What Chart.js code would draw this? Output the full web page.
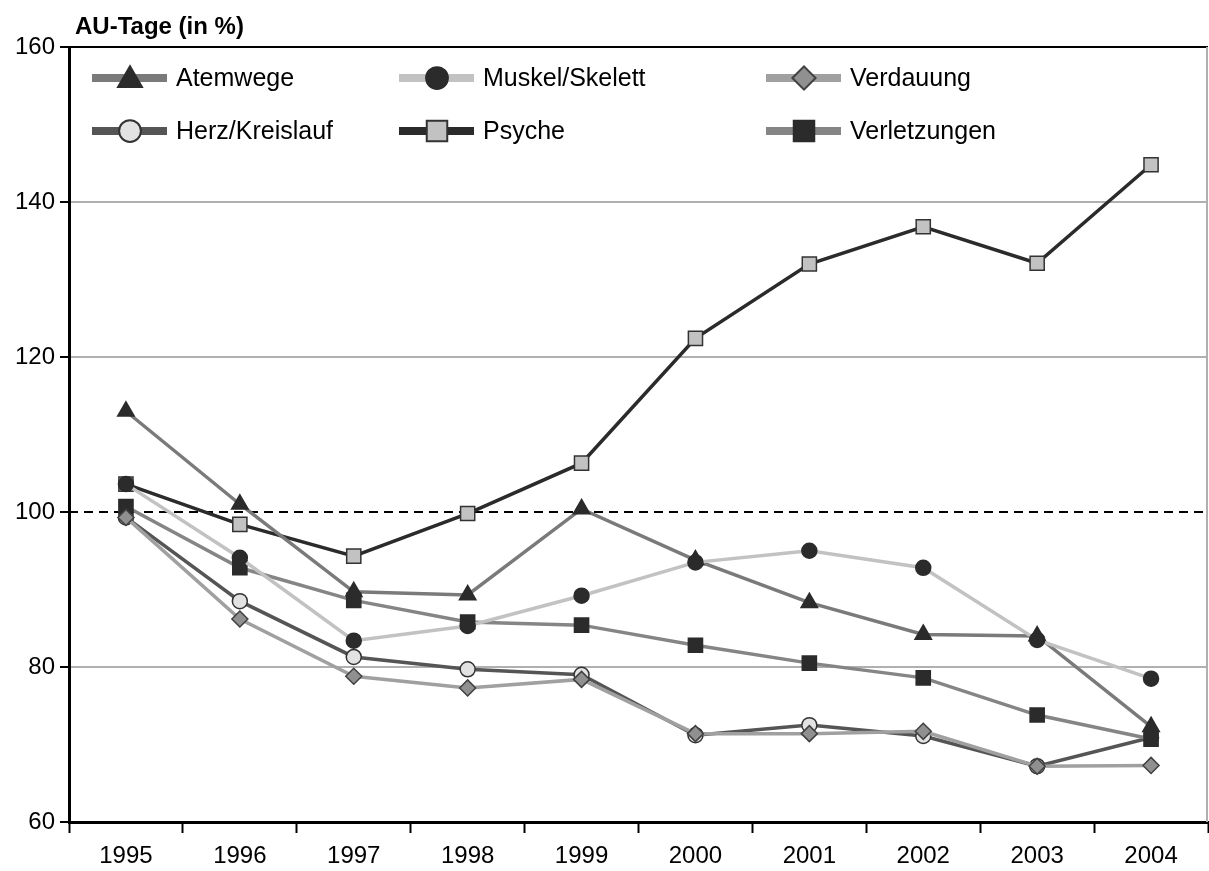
<!DOCTYPE html>
<html>
<head>
<meta charset="utf-8">
<script src="https://cdn.jsdelivr.net/npm/chart.js@4/dist/chart.umd.min.js"></script>
<style>
  html, body { margin: 0; padding: 0; background: #fff; overflow: hidden; }
  #auChart { display: block; }
</style>
</head>
<body>
<canvas id="auChart" width="1209" height="871"></canvas>
<script>
// Daten (AU-Tage in %, 1995 = Basis)
const jahre = ['1995', '1996', '1997', '1998', '1999', '2000', '2001', '2002', '2003', '2004'];
const atemwege      = [113.0, 101.0, 89.7, 89.3, 100.4, 93.8, 88.3, 84.2, 84.0, 72.3];
const herzKreislauf = [99.3, 88.5, 81.3, 79.7, 79.0, 71.2, 72.5, 71.1, 67.2, 70.9];
const muskelSkelett = [103.6, 94.1, 83.4, 85.3, 89.2, 93.5, 95.0, 92.8, 83.5, 78.5];
const psyche        = [103.6, 98.4, 94.3, 99.8, 106.3, 122.4, 132.0, 136.8, 132.1, 144.8];
const verdauung     = [99.3, 86.2, 78.8, 77.3, 78.4, 71.4, 71.4, 71.7, 67.2, 67.3];
const verletzungen  = [100.7, 92.8, 88.6, 85.8, 85.4, 82.8, 80.5, 78.6, 73.8, 70.7];
const yTicks = [60, 80, 100, 120, 140, 160];
const basisLinie = 100;
const achsenTitel = 'AU-Tage (in %)';

const ctx = document.getElementById('auChart').getContext('2d');
const FONT = "'Liberation Sans', Arial, sans-serif";

function serie(label, data, line, fill, border, style, radius, order) {
    return {
        label: label,
        data: data,
        borderColor: line,
        borderWidth: 3.5,
        pointBackgroundColor: fill,
        pointBorderColor: border,
        pointBorderWidth: 1.5,
        pointStyle: style,
        pointRadius: radius,
        pointHoverRadius: radius,
        tension: 0,
        fill: false,
        order: order
    };
}

// Legende: 3 Spalten, 2 Zeilen, Linienmuster mit Marker
const legendePlugin = {
    id: 'legende',
    afterDraw(chart) {
        const c = chart.ctx;
        const spalten = [92, 399, 766];
        const zeilen = [78, 131];
        chart.data.datasets.forEach((ds, i) => {
            const x = spalten[Math.floor(i / 2)];
            const y = zeilen[i % 2];
            c.save();
            c.strokeStyle = ds.borderColor;
            c.lineWidth = 8;
            c.beginPath();
            c.moveTo(x, y);
            c.lineTo(x + 75, y);
            c.stroke();
            c.fillStyle = ds.pointBackgroundColor;
            c.strokeStyle = ds.pointBorderColor;
            c.lineWidth = 2;
            Chart.helpers.drawPoint(c, {
                pointStyle: ds.pointStyle,
                radius: ds.pointRadius * 1.45,
                borderWidth: 2,
                rotation: 0
            }, x + 38, y + (ds.pointStyle === 'triangle' ? 2 : 0));
            c.fillStyle = '#000';
            c.font = '25px ' + FONT;
            c.textBaseline = 'middle';
            c.textAlign = 'left';
            c.fillText(ds.label, x + 84, y + 1);
            c.restore();
        });
    }
};

// Gestrichelte Basislinie, rechter Rand und Achsentitel
const rahmenPlugin = {
    id: 'rahmen',
    beforeDatasetsDraw(chart) {
        const c = chart.ctx;
        const a = chart.chartArea;
        const y = chart.scales.y.getPixelForValue(basisLinie);
        c.save();
        c.strokeStyle = '#000';
        c.lineWidth = 2;
        c.setLineDash([9, 6]);
        c.beginPath();
        c.moveTo(a.left, y);
        c.lineTo(a.right, y);
        c.stroke();
        c.setLineDash([]);
        c.strokeStyle = '#b0b0b0';
        c.beginPath();
        c.moveTo(a.right - 1, a.top);
        c.lineTo(a.right - 1, a.bottom);
        c.stroke();
        c.restore();
    },
    afterDraw(chart) {
        const c = chart.ctx;
        c.save();
        c.fillStyle = '#000';
        c.font = 'bold 24px ' + FONT;
        c.textBaseline = 'alphabetic';
        c.fillText(achsenTitel, 75, 34);
        c.restore();
    }
};

new Chart(ctx, {
    type: 'line',
    data: {
        labels: jahre,
        datasets: [
            serie('Atemwege', atemwege, '#7a7a7a', '#2b2b2b', '#2b2b2b', 'triangle', 9.5, 4),
            serie('Herz/Kreislauf', herzKreislauf, '#555555', '#e2e2e2', '#333333', 'circle', 7.5, 5),
            serie('Muskel/Skelett', muskelSkelett, '#c2c2c2', '#2b2b2b', '#2b2b2b', 'circle', 7.5, 1),
            serie('Psyche', psyche, '#2b2b2b', '#c2c2c2', '#333333', 'rect', 10, 6),
            serie('Verdauung', verdauung, '#a0a0a0', '#909090', '#404040', 'rectRot', 8, 2),
            serie('Verletzungen', verletzungen, '#858585', '#2b2b2b', '#2b2b2b', 'rect', 10, 3)
        ]
    },
    options: {
        responsive: false,
        animation: false,
        layout: { autoPadding: false, padding: { top: 47, left: 0, right: 1, bottom: 0 } },
        plugins: {
            legend: { display: false },
            tooltip: { enabled: false }
        },
        scales: {
            x: {
                offset: true,
                grid: {
                    offset: true,
                    drawOnChartArea: false,
                    drawTicks: true,
                    tickLength: 11,
                    tickColor: '#000',
                    tickWidth: 2
                },
                border: { color: '#000', width: 3 },
                ticks: {
                    color: '#000',
                    font: { family: FONT, size: 24 },
                    padding: 9,
                    maxRotation: 0
                },
                afterFit(scale) {
                    scale.height = 49;
                    scale.paddingLeft = 0;
                    scale.paddingRight = 0;
                }
            },
            y: {
                min: yTicks[0],
                max: yTicks[yTicks.length - 1],
                afterBuildTicks(scale) { scale.ticks = yTicks.map(v => ({ value: v })); },
                grid: {
                    color: (c) => {
                        const v = c.tick ? c.tick.value : null;
                        if (v === 160) return '#000';
                        if (v === 100 || v === 60) return 'rgba(0,0,0,0)';
                        return '#b0b0b0';
                    },
                    lineWidth: 2,
                    tickLength: 9,
                    tickColor: '#000',
                    tickWidth: 2
                },
                border: { color: '#000', width: 3 },
                ticks: {
                    color: '#000',
                    font: { family: FONT, size: 24 },
                    padding: 5
                },
                afterFit(scale) {
                    scale.width = 69;
                    scale.paddingTop = 0;
                    scale.paddingBottom = 0;
                }
            }
        }
    },
    plugins: [rahmenPlugin, legendePlugin]
});
</script>
</body>
</html>
